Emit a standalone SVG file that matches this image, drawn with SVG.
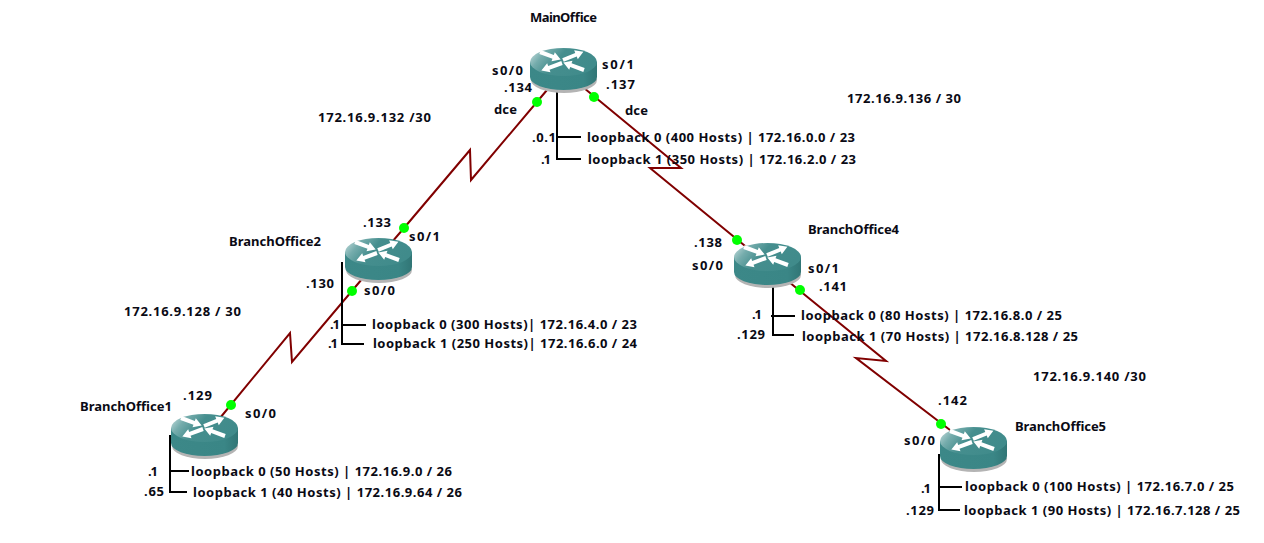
<svg xmlns="http://www.w3.org/2000/svg" width="1264" height="543" viewBox="0 0 1264 543">
<style>
text{font-family:"Noto Sans","DejaVu Sans",sans-serif;font-weight:700;font-size:13px;fill:#0a0a14}
.link{fill:none;stroke:#800000;stroke-width:2}
.lb{fill:none;stroke:#000;stroke-width:2}
.dot{fill:#00ff00;stroke:none}
.arr{fill:#fff;stroke:none}
</style>
<defs>
<linearGradient id="top" x1="0" y1="0" x2="1" y2="0.35"><stop offset="0" stop-color="#cfe3e3"/><stop offset="0.25" stop-color="#75acac"/><stop offset="0.5" stop-color="#458e8e"/><stop offset="1" stop-color="#408b8b"/></linearGradient>
<linearGradient id="side" x1="0" y1="0" x2="1" y2="0"><stop offset="0" stop-color="#3c8888"/><stop offset="0.8" stop-color="#3a8686"/><stop offset="1" stop-color="#317676"/></linearGradient>
<path id="arw" class="arr" d="M0 -2H14V-4.8L22 0L14 4.8V2H0Z"/>
<g id="router">
<ellipse cx="34" cy="32" rx="33" ry="13" fill="#b4b4b4"/>
<path d="M0 14V29A33.5 13 0 0 0 67 29V14Z" fill="url(#side)"/>
<ellipse cx="33.5" cy="14" rx="33.5" ry="14" fill="url(#top)"/>
<use href="#arw" transform="translate(10 4) rotate(20)"/>
<use href="#arw" transform="translate(33 12) rotate(-22)"/>
<use href="#arw" transform="translate(32 15) rotate(160)"/>
<use href="#arw" transform="translate(54 22) rotate(200)"/>
</g>
</defs>
<g id="connectors">
<path class="link" d="M547 90L471 180L470 150L404 228L362 277"/>
<path class="link" d="M362 279L292 362L290 333L220 418"/>
<path class="link" d="M584 88L681 168L650 168L750 250"/>
<path class="link" d="M789 282L886 361L856 358L950 430"/>
<path class="lb" d="M557 90V159H581M557 137H581"/>
<path class="lb" d="M342 262V344H364M342 325H366"/>
<path class="lb" d="M773 285V335H794M771 316H795"/>
<path class="lb" d="M170 435V492H187M170 471H189"/>
<path class="lb" d="M939 454V510H960M939 487H962"/>
</g>
<g id="MainOffice"><use href="#router" x="530" y="48"/><text x="530" y="22" textLength="67">MainOffice</text></g>
<g id="BranchOffice2"><use href="#router" x="345" y="238"/><text x="229" y="246" textLength="92">BranchOffice2</text></g>
<g id="BranchOffice4"><use href="#router" x="734" y="243"/><text x="808" y="234" textLength="91">BranchOffice4</text></g>
<g id="BranchOffice1"><use href="#router" x="171" y="414"/><text x="80" y="411" textLength="92">BranchOffice1</text></g>
<g id="BranchOffice5"><use href="#router" x="940" y="427"/><text x="1015" y="431" textLength="91">BranchOffice5</text></g>
<g id="dots">
<circle class="dot" cx="537" cy="102" r="5"/><circle class="dot" cx="594" cy="97" r="5"/>
<circle class="dot" cx="404" cy="228" r="5"/><circle class="dot" cx="352" cy="291" r="5"/>
<circle class="dot" cx="231" cy="405" r="5"/><circle class="dot" cx="737" cy="240" r="5"/>
<circle class="dot" cx="800" cy="290" r="5"/><circle class="dot" cx="941" cy="424" r="5"/>
</g>
<g id="labels">
<text x="492" y="75" textLength="31">s0/0</text><text x="602" y="69" textLength="32">s0/1</text><text x="504" y="92" textLength="28">.134</text><text x="606" y="89" textLength="29">.137</text>
<text x="494" y="114" textLength="23">dce</text><text x="625" y="115" textLength="23">dce</text>
<text x="532" y="142" textLength="24">.0.1</text><text x="541" y="164" textLength="10">.1</text>
<text x="587" y="142" textLength="268">loopback 0 (400 Hosts) | 172.16.0.0 / 23</text>
<text x="588" y="164" textLength="268">loopback 1 (350 Hosts) | 172.16.2.0 / 23</text>
<text x="318" y="122" textLength="113">172.16.9.132 /30</text><text x="847" y="103" textLength="114">172.16.9.136 / 30</text>
<text x="124" y="316" textLength="117">172.16.9.128 / 30</text><text x="1033" y="381" textLength="113">172.16.9.140 /30</text>
<text x="363" y="227" textLength="28">.133</text><text x="409" y="241" textLength="31">s0/1</text><text x="306" y="288" textLength="28">.130</text><text x="364" y="295" textLength="31">s0/0</text>
<text x="330" y="329" textLength="10">.1</text><text x="328" y="348" textLength="10">.1</text>
<text x="372" y="329" textLength="265">loopback 0 (300 Hosts)| 172.16.4.0 / 23</text>
<text x="373" y="348" textLength="264">loopback 1 (250 Hosts)| 172.16.6.0 / 24</text>
<text x="694" y="247" textLength="28">.138</text><text x="692" y="270" textLength="31">s0/0</text><text x="808" y="273" textLength="31">s0/1</text><text x="819" y="291" textLength="28">.141</text>
<text x="752" y="319" textLength="10">.1</text><text x="737" y="339" textLength="28">.129</text>
<text x="801" y="320" textLength="261">loopback 0 (80 Hosts) | 172.16.8.0 / 25</text>
<text x="802" y="341" textLength="276">loopback 1 (70 Hosts) | 172.16.8.128 / 25</text>
<text x="183" y="400" textLength="29">.129</text><text x="245" y="418" textLength="31">s0/0</text><text x="148" y="476" textLength="10">.1</text><text x="144" y="496" textLength="20">.65</text>
<text x="191" y="476" textLength="261">loopback 0 (50 Hosts) | 172.16.9.0 / 26</text>
<text x="193" y="497" textLength="269">loopback 1 (40 Hosts) | 172.16.9.64 / 26</text>
<text x="938" y="405" textLength="29">.142</text><text x="904" y="445" textLength="31">s0/0</text><text x="921" y="493" textLength="10">.1</text><text x="906" y="515" textLength="28">.129</text>
<text x="965" y="491" textLength="269">loopback 0 (100 Hosts) | 172.16.7.0 / 25</text>
<text x="964" y="515" textLength="276">loopback 1 (90 Hosts) | 172.16.7.128 / 25</text>
</g>
</svg>
